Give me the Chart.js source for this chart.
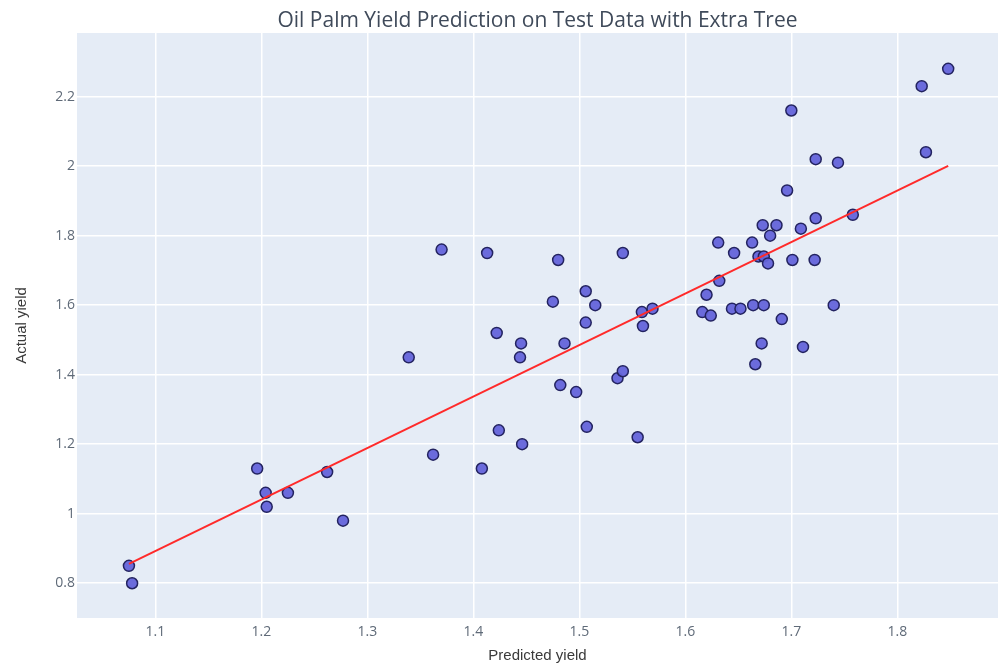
<!DOCTYPE html>
<html>
<head>
<meta charset="utf-8">
<title>Oil Palm Yield Prediction on Test Data with Extra Tree</title>
<script src="https://cdn.jsdelivr.net/npm/chart.js@4/dist/chart.umd.min.js"></script>
<style>
  html, body { margin: 0; padding: 0; background: #ffffff; }
  #wrap { width: 998px; height: 665px; position: relative; }
</style>
</head>
<body>
<div id="wrap"><canvas id="chart" width="998" height="665"></canvas></div>
<script>
// Test-set predictions from the Extra Trees model
const predictedYield = [
  1.075, 1.078, 1.196, 1.204, 1.205, 1.225, 1.262, 1.277, 1.339, 1.362,
  1.370, 1.408, 1.413, 1.422, 1.424, 1.444, 1.445, 1.446, 1.475, 1.480,
  1.482, 1.486, 1.497, 1.506, 1.506, 1.507, 1.515, 1.536, 1.541, 1.541,
  1.555, 1.559, 1.560, 1.569, 1.616, 1.620, 1.624, 1.631, 1.632, 1.644,
  1.646, 1.652, 1.663, 1.664, 1.666, 1.669, 1.672, 1.673, 1.674, 1.674,
  1.678, 1.680, 1.686, 1.691, 1.696, 1.700, 1.701, 1.709, 1.711, 1.722,
  1.723, 1.723, 1.740, 1.744, 1.758, 1.823, 1.827, 1.848
];
const actualYield = [
  0.85, 0.80, 1.13, 1.06, 1.02, 1.06, 1.12, 0.98, 1.45, 1.17,
  1.76, 1.13, 1.75, 1.52, 1.24, 1.45, 1.49, 1.20, 1.61, 1.73,
  1.37, 1.49, 1.35, 1.64, 1.55, 1.25, 1.60, 1.39, 1.41, 1.75,
  1.22, 1.58, 1.54, 1.59, 1.58, 1.63, 1.57, 1.78, 1.67, 1.59,
  1.75, 1.59, 1.78, 1.60, 1.43, 1.74, 1.49, 1.83, 1.74, 1.60,
  1.72, 1.80, 1.83, 1.56, 1.93, 2.16, 1.73, 1.82, 1.48, 1.73,
  2.02, 1.85, 1.60, 2.01, 1.86, 2.23, 2.04, 2.28
];

// Fitted trend line end points
const fitX = [1.075, 1.848];
const fitY = [0.856, 2.001];

// Axis ticks
const xTicks = [1.1, 1.2, 1.3, 1.4, 1.5, 1.6, 1.7, 1.8];
const yTicks = [0.8, 1.0, 1.2, 1.4, 1.6, 1.8, 2.0, 2.2];

const scatterPoints = predictedYield.map((x, i) => ({ x: x, y: actualYield[i] }));
const fitPoints = fitX.map((x, i) => ({ x: x, y: fitY[i] }));

const TITLE = 'Oil Palm Yield Prediction on Test Data with Extra Tree';

// Plot background and chart title
const plotFrame = {
  id: 'plotFrame',
  beforeDraw(chart) {
    const { ctx, chartArea: a } = chart;
    ctx.save();
    ctx.fillStyle = '#e5ecf6';
    ctx.fillRect(a.left, a.top, a.right - a.left, a.bottom - a.top);
    ctx.restore();
  },
  afterDraw(chart) {
    const { ctx, chartArea: a } = chart;
    ctx.save();
    ctx.font = '21px "Open Sans", sans-serif';
    ctx.fillStyle = '#3f4a5a';
    ctx.textAlign = 'center';
    ctx.textBaseline = 'middle';
    ctx.fillText(TITLE, (a.left + a.right) / 2, 21);
    ctx.restore();
  }
};

const fmt = v => String(Number(v.toFixed(1)));

new Chart(document.getElementById('chart'), {
  type: 'scatter',
  data: {
    datasets: [
      {
        label: 'Trend',
        type: 'line',
        data: fitPoints,
        borderColor: '#ff2a2a',
        borderWidth: 2,
        pointRadius: 0,
        fill: false,
        tension: 0,
        order: 0
      },
      {
        label: 'Test data',
        data: scatterPoints,
        backgroundColor: 'rgba(100, 100, 218, 0.95)',
        borderColor: '#232360',
        borderWidth: 1.5,
        pointRadius: 5.5,
        pointHoverRadius: 5.5,
        order: 1
      }
    ]
  },
  options: {
    responsive: false,
    animation: false,
    layout: { autoPadding: false, padding: { top: 33, right: 0, bottom: 0, left: 0 } },
    plugins: {
      legend: { display: false },
      tooltip: { enabled: false },
      title: { display: false }
    },
    scales: {
      x: {
        type: 'linear',
        min: 1.026,
        max: 1.895,
        afterBuildTicks(scale) { scale.ticks = xTicks.map(v => ({ value: v })); },
        afterFit(scale) {
          scale.height = 47;
          scale.paddingLeft = 0;
          scale.paddingRight = 0;
        },
        grid: { color: '#ffffff', lineWidth: 1.5, drawTicks: false },
        border: { display: false },
        ticks: {
          padding: 6,
          color: '#5f6a78',
          font: { family: '"Open Sans", sans-serif', size: 14 },
          callback: v => fmt(v)
        },
        title: {
          display: true,
          text: 'Predicted yield',
          color: '#3a3a3a',
          font: { family: '"Liberation Sans", Arial, sans-serif', size: 15 },
          padding: { top: 0, bottom: 0 }
        }
      },
      y: {
        type: 'linear',
        min: 0.70,
        max: 2.383,
        afterBuildTicks(scale) { scale.ticks = yTicks.map(v => ({ value: v })); },
        afterFit(scale) {
          scale.width = 77;
          scale.paddingTop = 0;
          scale.paddingBottom = 0;
        },
        grid: { color: '#ffffff', lineWidth: 1.5, drawTicks: false },
        border: { display: false },
        ticks: {
          padding: 2,
          color: '#5f6a78',
          font: { family: '"Open Sans", sans-serif', size: 14 },
          callback: v => fmt(v)
        },
        title: {
          display: true,
          text: 'Actual yield',
          color: '#3a3a3a',
          font: { family: '"Liberation Sans", Arial, sans-serif', size: 15 },
          padding: { top: 13, bottom: 0 }
        }
      }
    }
  },
  plugins: [plotFrame]
});
</script>
</body>
</html>
